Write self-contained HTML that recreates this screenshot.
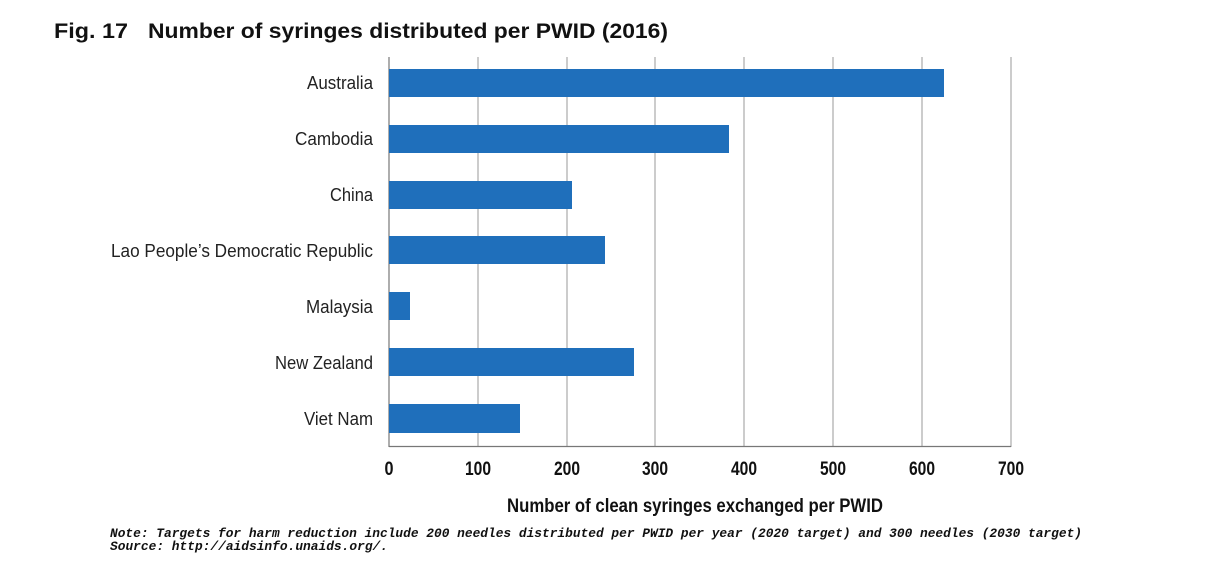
<!DOCTYPE html>
<html><head><meta charset="utf-8"><style>
html,body{margin:0;padding:0;background:#fff;}
svg{display:block;}
.l{font-family:"Liberation Sans",sans-serif;font-size:18px;fill:#222;}
.t{font-family:"Liberation Sans",sans-serif;font-size:19px;font-weight:bold;fill:#111;}
.m{font-family:"Liberation Mono","DejaVu Sans Mono",monospace;font-size:13px;font-weight:bold;font-style:italic;fill:#111;}
</style></head><body>
<svg width="1227" height="563" viewBox="0 0 1227 563">
<text x="54" y="38" font-family="Liberation Sans, sans-serif" font-weight="bold" font-size="21" fill="#111" textLength="74" lengthAdjust="spacingAndGlyphs">Fig. 17</text>
<text x="148" y="38" font-family="Liberation Sans, sans-serif" font-weight="bold" font-size="21" fill="#111" textLength="520" lengthAdjust="spacingAndGlyphs">Number of syringes distributed per PWID (2016)</text>
<g stroke="#999" stroke-width="1">
<line x1="478" y1="57" x2="478" y2="447"/><line x1="567" y1="57" x2="567" y2="447"/>
<line x1="655" y1="57" x2="655" y2="447"/><line x1="744" y1="57" x2="744" y2="447"/>
<line x1="833" y1="57" x2="833" y2="447"/><line x1="922" y1="57" x2="922" y2="447"/>
<line x1="1011" y1="57" x2="1011" y2="447"/>
</g>
<g stroke="#777" stroke-width="1.2"><line x1="389" y1="57" x2="389" y2="447"/><line x1="389" y1="446.5" x2="1011" y2="446.5"/></g>
<g fill="#1f6fbb">
<rect x="389" y="69" width="555" height="28"/>
<rect x="389" y="125" width="340" height="28"/>
<rect x="389" y="181" width="183" height="28"/>
<rect x="389" y="236" width="216" height="28"/>
<rect x="389" y="292" width="21" height="28"/>
<rect x="389" y="348" width="245" height="28"/>
<rect x="389" y="404" width="131" height="29"/>
</g>
<g text-anchor="end">
<text x="373" y="89" class="l" textLength="66" lengthAdjust="spacingAndGlyphs">Australia</text>
<text x="373" y="145" class="l" textLength="78" lengthAdjust="spacingAndGlyphs">Cambodia</text>
<text x="373" y="201" class="l" textLength="43" lengthAdjust="spacingAndGlyphs">China</text>
<text x="373" y="257" class="l" textLength="262" lengthAdjust="spacingAndGlyphs">Lao People’s Democratic Republic</text>
<text x="373" y="313" class="l" textLength="67" lengthAdjust="spacingAndGlyphs">Malaysia</text>
<text x="373" y="369" class="l" textLength="98" lengthAdjust="spacingAndGlyphs">New Zealand</text>
<text x="373" y="425" class="l" textLength="69" lengthAdjust="spacingAndGlyphs">Viet Nam</text>
</g>
<g text-anchor="middle">
<text x="389" y="475" class="t" textLength="9" lengthAdjust="spacingAndGlyphs">0</text>
<text x="478" y="475" class="t" textLength="26" lengthAdjust="spacingAndGlyphs">100</text>
<text x="567" y="475" class="t" textLength="26" lengthAdjust="spacingAndGlyphs">200</text>
<text x="655" y="475" class="t" textLength="26" lengthAdjust="spacingAndGlyphs">300</text>
<text x="744" y="475" class="t" textLength="26" lengthAdjust="spacingAndGlyphs">400</text>
<text x="833" y="475" class="t" textLength="26" lengthAdjust="spacingAndGlyphs">500</text>
<text x="922" y="475" class="t" textLength="26" lengthAdjust="spacingAndGlyphs">600</text>
<text x="1011" y="475" class="t" textLength="26" lengthAdjust="spacingAndGlyphs">700</text>
</g>
<text x="507" y="512" class="t" textLength="376" lengthAdjust="spacingAndGlyphs">Number of clean syringes exchanged per PWID</text>
<text x="110" y="537" class="m" textLength="972" lengthAdjust="spacingAndGlyphs">Note: Targets for harm reduction include 200 needles distributed per PWID per year (2020 target) and 300 needles (2030 target)</text>
<text x="110" y="550" class="m" textLength="278" lengthAdjust="spacingAndGlyphs">Source: http://aidsinfo.unaids.org/.</text>
</svg>
</body></html>
